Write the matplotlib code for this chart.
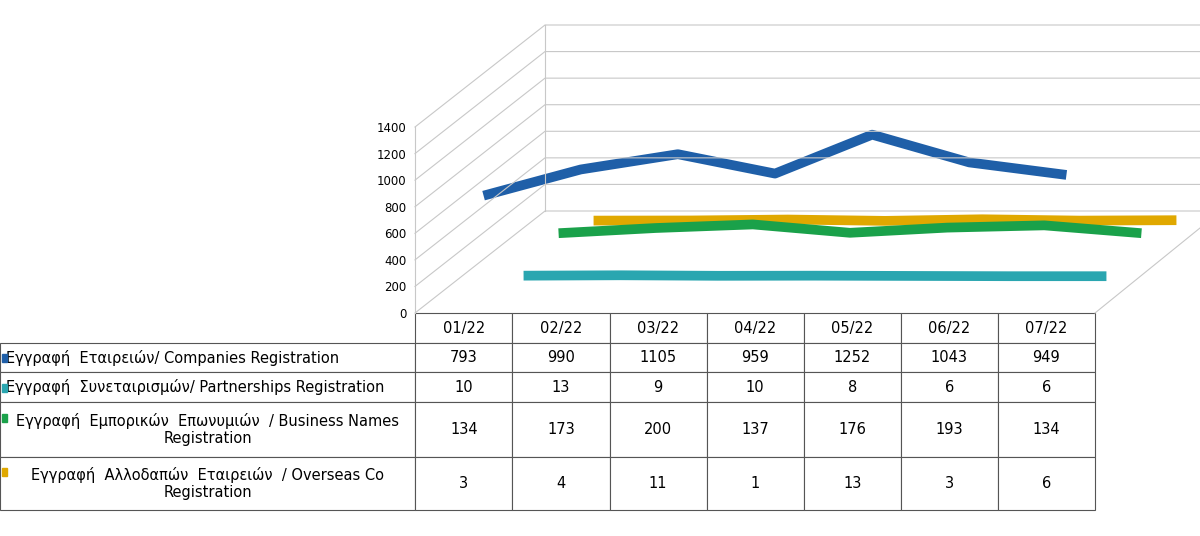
import matplotlib.pyplot as plt
import matplotlib.transforms as mtransforms
from matplotlib.lines import Line2D
from matplotlib.patches import Rectangle

months = ["01/22", "02/22", "03/22", "04/22", "05/22", "06/22", "07/22"]
companies = [793, 990, 1105, 959, 1252, 1043, 949]
partnerships = [10, 13, 9, 10, 8, 6, 6]
business = [134, 173, 200, 137, 176, 193, 134]
overseas = [3, 4, 11, 1, 13, 3, 6]
labels = ["Εγγραφή  Εταιρειών/ Companies Registration",
          "Εγγραφή  Συνεταιρισμών/ Partnerships Registration",
          "Εγγραφή  Εμπορικών  Επωνυμιών  / Business Names\nRegistration",
          "Εγγραφή  Αλλοδαπών  Εταιρειών  / Overseas Co\nRegistration"]
colors = ["#1f5fa8", "#2aa6b0", "#1aa14a", "#e0a800"]

W, H = 1200, 536
fig = plt.figure(figsize=(12, 5.36), dpi=100)

def px(x, y):
    return x / W, 1 - y / H

# back walls / floor (decorative perspective frame)
grid_c = "#c8c8c8"
for i in range(8):
    y = 313 - i * 186 / 7
    xs = [415, 545, 1200]
    ys = [y, y - 102, y - 102]
    fig.add_artist(Line2D([px(a, 0)[0] for a in xs], [px(0, b)[1] for b in ys],
                          color=grid_c, lw=0.8))
fig.add_artist(Line2D([px(545, 0)[0]] * 2, [px(0, 25)[1], px(0, 211)[1]], color=grid_c, lw=0.8))
fig.add_artist(Line2D([px(1095, 0)[0], px(1200, 0)[0]], [px(0, 313)[1], px(0, 228)[1]],
                      color=grid_c, lw=0.8))

ax = fig.add_axes([415 / W, 1 - 313 / H, 680 / W, 186 / H])
ax.set_xlim(-0.5, 6.5)
ax.set_ylim(0, 1400)
ax.set_yticks(range(0, 1401, 200))
ax.tick_params(axis="y", labelsize=8.5, length=0, pad=6)
ax.set_xticks([])
ax.patch.set_alpha(0)
for s in ["top", "right", "bottom"]:
    ax.spines[s].set_visible(False)
ax.spines["left"].set_color(grid_c)

x = range(len(months))
series = [overseas, business, partnerships, companies]
offsets = [(130, 92), (95, 62), (60, 36), (20, 12)]
cols = [colors[3], colors[2], colors[1], colors[0]]
for vals, (dx, dy), c in zip(series, offsets, cols):
    tr = mtransforms.offset_copy(ax.transData, fig, x=dx, y=dy, units="dots")
    ax.plot(x, vals, color=c, lw=7, transform=tr, clip_on=False, solid_capstyle="butt")

rows = [[lab] + [str(v) for v in s]
        for lab, s in zip(labels, [companies, partnerships, business, overseas])]
tab = ax.table(cellText=[[""] + months] + rows, cellLoc="center",
               bbox=[-415 / 680, -197 / 186, 1 + 415 / 680, 197 / 186])
tab.auto_set_font_size(False)
tab.set_fontsize(10.5)
heights = [30, 29, 30, 55, 53]
for (r, c), cell in tab.get_celld().items():
    cell.set_height(heights[r] / 186)
    cell.set_edgecolor("#555555")
    cell.set_linewidth(0.8)
    if c == 0:
        cell.set_width(415 / 680)
        txt = cell.get_text()
        if "\n" in txt.get_text():
            txt.set_multialignment("center")
        else:
            txt.set_ha("left")
            cell.PAD = 0.015
        if r == 0:
            cell.set_visible(False)
    else:
        cell.set_width(97 / 680)

row_y = [358, 388, 418, 472]
for y, c in zip(row_y, colors):
    fig.add_artist(Rectangle(px(2, y + 4), 5 / W, 8 / H, color=c))

fig.savefig("out.png", dpi=100, facecolor="white")
